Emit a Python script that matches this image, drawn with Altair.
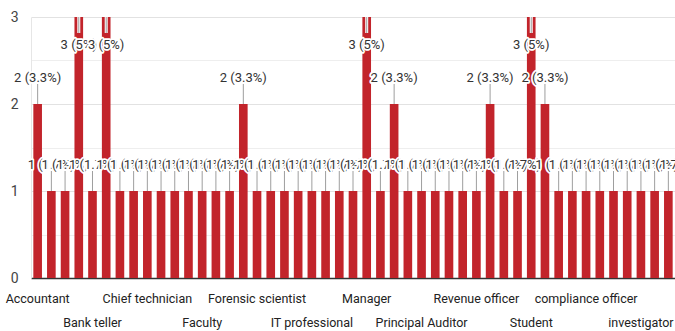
import altair as alt
import pandas as pd

# Survey answers: occupation of respondents, one bar per distinct answer
occupations = [
    "Accountant", "Administrator", "Analyst", "Auditor", "Bank teller", "Banker",
    "Business analyst", "CEO", "Chief technician", "Civil servant", "Consultant",
    "Data analyst", "Faculty", "Finance manager", "Financial analyst",
    "Forensic accountant", "Forensic scientist", "Fraud examiner",
    "Government employee", "HR manager", "IT professional", "Internal auditor",
    "Investigator", "Lecturer", "Manager", "Officer", "Police officer",
    "Principal", "Principal Auditor", "Professor", "Researcher", "Retired",
    "Revenue officer", "Risk analyst", "Self employed", "Software engineer",
    "Student", "Tax officer", "Teacher", "auditor", "compliance officer",
    "data scientist", "engineer", "fraud analyst", "investigator", "lawyer",
    "manager",
]
responses = [
    2, 1, 1, 3, 1, 3,
    1, 1, 1, 1, 1,
    1, 1, 1, 1,
    2, 1, 1,
    1, 1, 1, 1,
    1, 1, 3, 1, 2,
    1, 1, 1, 1, 1,
    1, 2, 1, 1,
    3, 2, 1, 1, 1,
    1, 1, 1, 1, 1,
    1,
]

# Category names printed under the axis, in two staggered rows
row1_labels = ["Accountant", "Chief technician", "Forensic scientist",
               "Manager", "Revenue officer", "compliance officer"]
row2_labels = ["Bank teller", "Faculty", "IT professional",
               "Principal Auditor", "Student", "investigator"]

y_ticks = [0, 0.5, 1, 1.5, 2, 2.5, 3]
y_max = 3

total = sum(responses)


def share_label(n):
    pct = round(n / total * 100, 1)
    return f"{n} ({pct:g}%)"


df = pd.DataFrame({
    "occupation": occupations,
    "count": responses,
    "idx": list(range(len(occupations))),
    "label": [share_label(n) for n in responses],
})

FONT = "Roboto"
BAR = "#c2242b"
TEXT = "#333333"

row2_json = "[" + ",".join(f"'{s}'" for s in row2_labels) + "]"

x_axis = alt.Axis(
    title=None, labelAngle=0, ticks=False, domain=True,
    domainColor="#333333", domainWidth=1.5,
    values=row1_labels + row2_labels, labelOverlap=False,
    labelFont=FONT, labelFontSize=12.5, labelColor="#222222",
    labelPadding={"condition": {"test": f"indexof({row2_json}, datum.value) >= 0",
                                "value": 38},
                  "value": 14},
)
y_axis = alt.Axis(
    title=None, values=y_ticks, ticks=False,
    labelExpr="datum.value % 1 == 0 ? format(datum.value, 'd') : ''",
    labelFont=FONT, labelFontSize=14, labelColor="#444444", labelPadding=13,
    domainColor="#e6e6e6",
    gridColor={"condition": {"test": "datum.value % 1 == 0", "value": "#e2e2e2"},
               "value": "#eeeeee"},
)

x_scale = alt.Scale(paddingInner=0.37, paddingOuter=0.17)
x_enc = alt.X("occupation:N", sort=occupations, scale=x_scale, axis=x_axis)
x_plain = alt.X("occupation:N", sort=occupations, scale=x_scale)
y_scale = alt.Scale(domain=[0, y_max], nice=False)
y_plain = alt.Y("count:Q", scale=y_scale)

base = alt.Chart(df)

bars = base.mark_bar(color=BAR).encode(
    x=x_enc,
    y=alt.Y("count:Q", scale=y_scale, axis=y_axis),
)

# Leader lines from each bar top to its value label
low = base.transform_filter(f"datum.count < {y_max}")
high = base.transform_filter(f"datum.count >= {y_max}")
leaders = []
for src, off in ((low, -20), (high, 16)):
    for col, w in (("white", 3), ("#9e9e9e", 1)):
        leaders.append(
            src.mark_rule(color=col, strokeWidth=w, y2Offset=off).encode(
                x=x_plain, y=y_plain, y2="count:Q",
            )
        )

# Value labels with a white halo, drawn one bar at a time so each
# label sits above the ones to its left
labels = []
for i, n in enumerate(responses):
    dy = 28 if n >= y_max else -26
    one = base.transform_filter(f"datum.idx == {i}")
    enc = dict(x=x_plain, y=y_plain, text="label:N")
    labels.append(one.mark_text(font=FONT, fontSize=13, baseline="middle", dy=dy,
                                fill="white", stroke="white", strokeWidth=3.5,
                                strokeJoin="round").encode(**enc))
    labels.append(one.mark_text(font=FONT, fontSize=13, baseline="middle", dy=dy,
                                color=TEXT).encode(**enc))

chart = alt.layer(bars, *leaders, *labels).properties(
    width=644,
    height=261,
    autosize=alt.AutoSizeParams(type="none"),
    padding={"left": 31, "top": 17, "right": 0, "bottom": 53},
    background="white",
).configure_view(stroke=None)

chart.save("out.html", embed_options={"renderer": "svg", "actions": False})
